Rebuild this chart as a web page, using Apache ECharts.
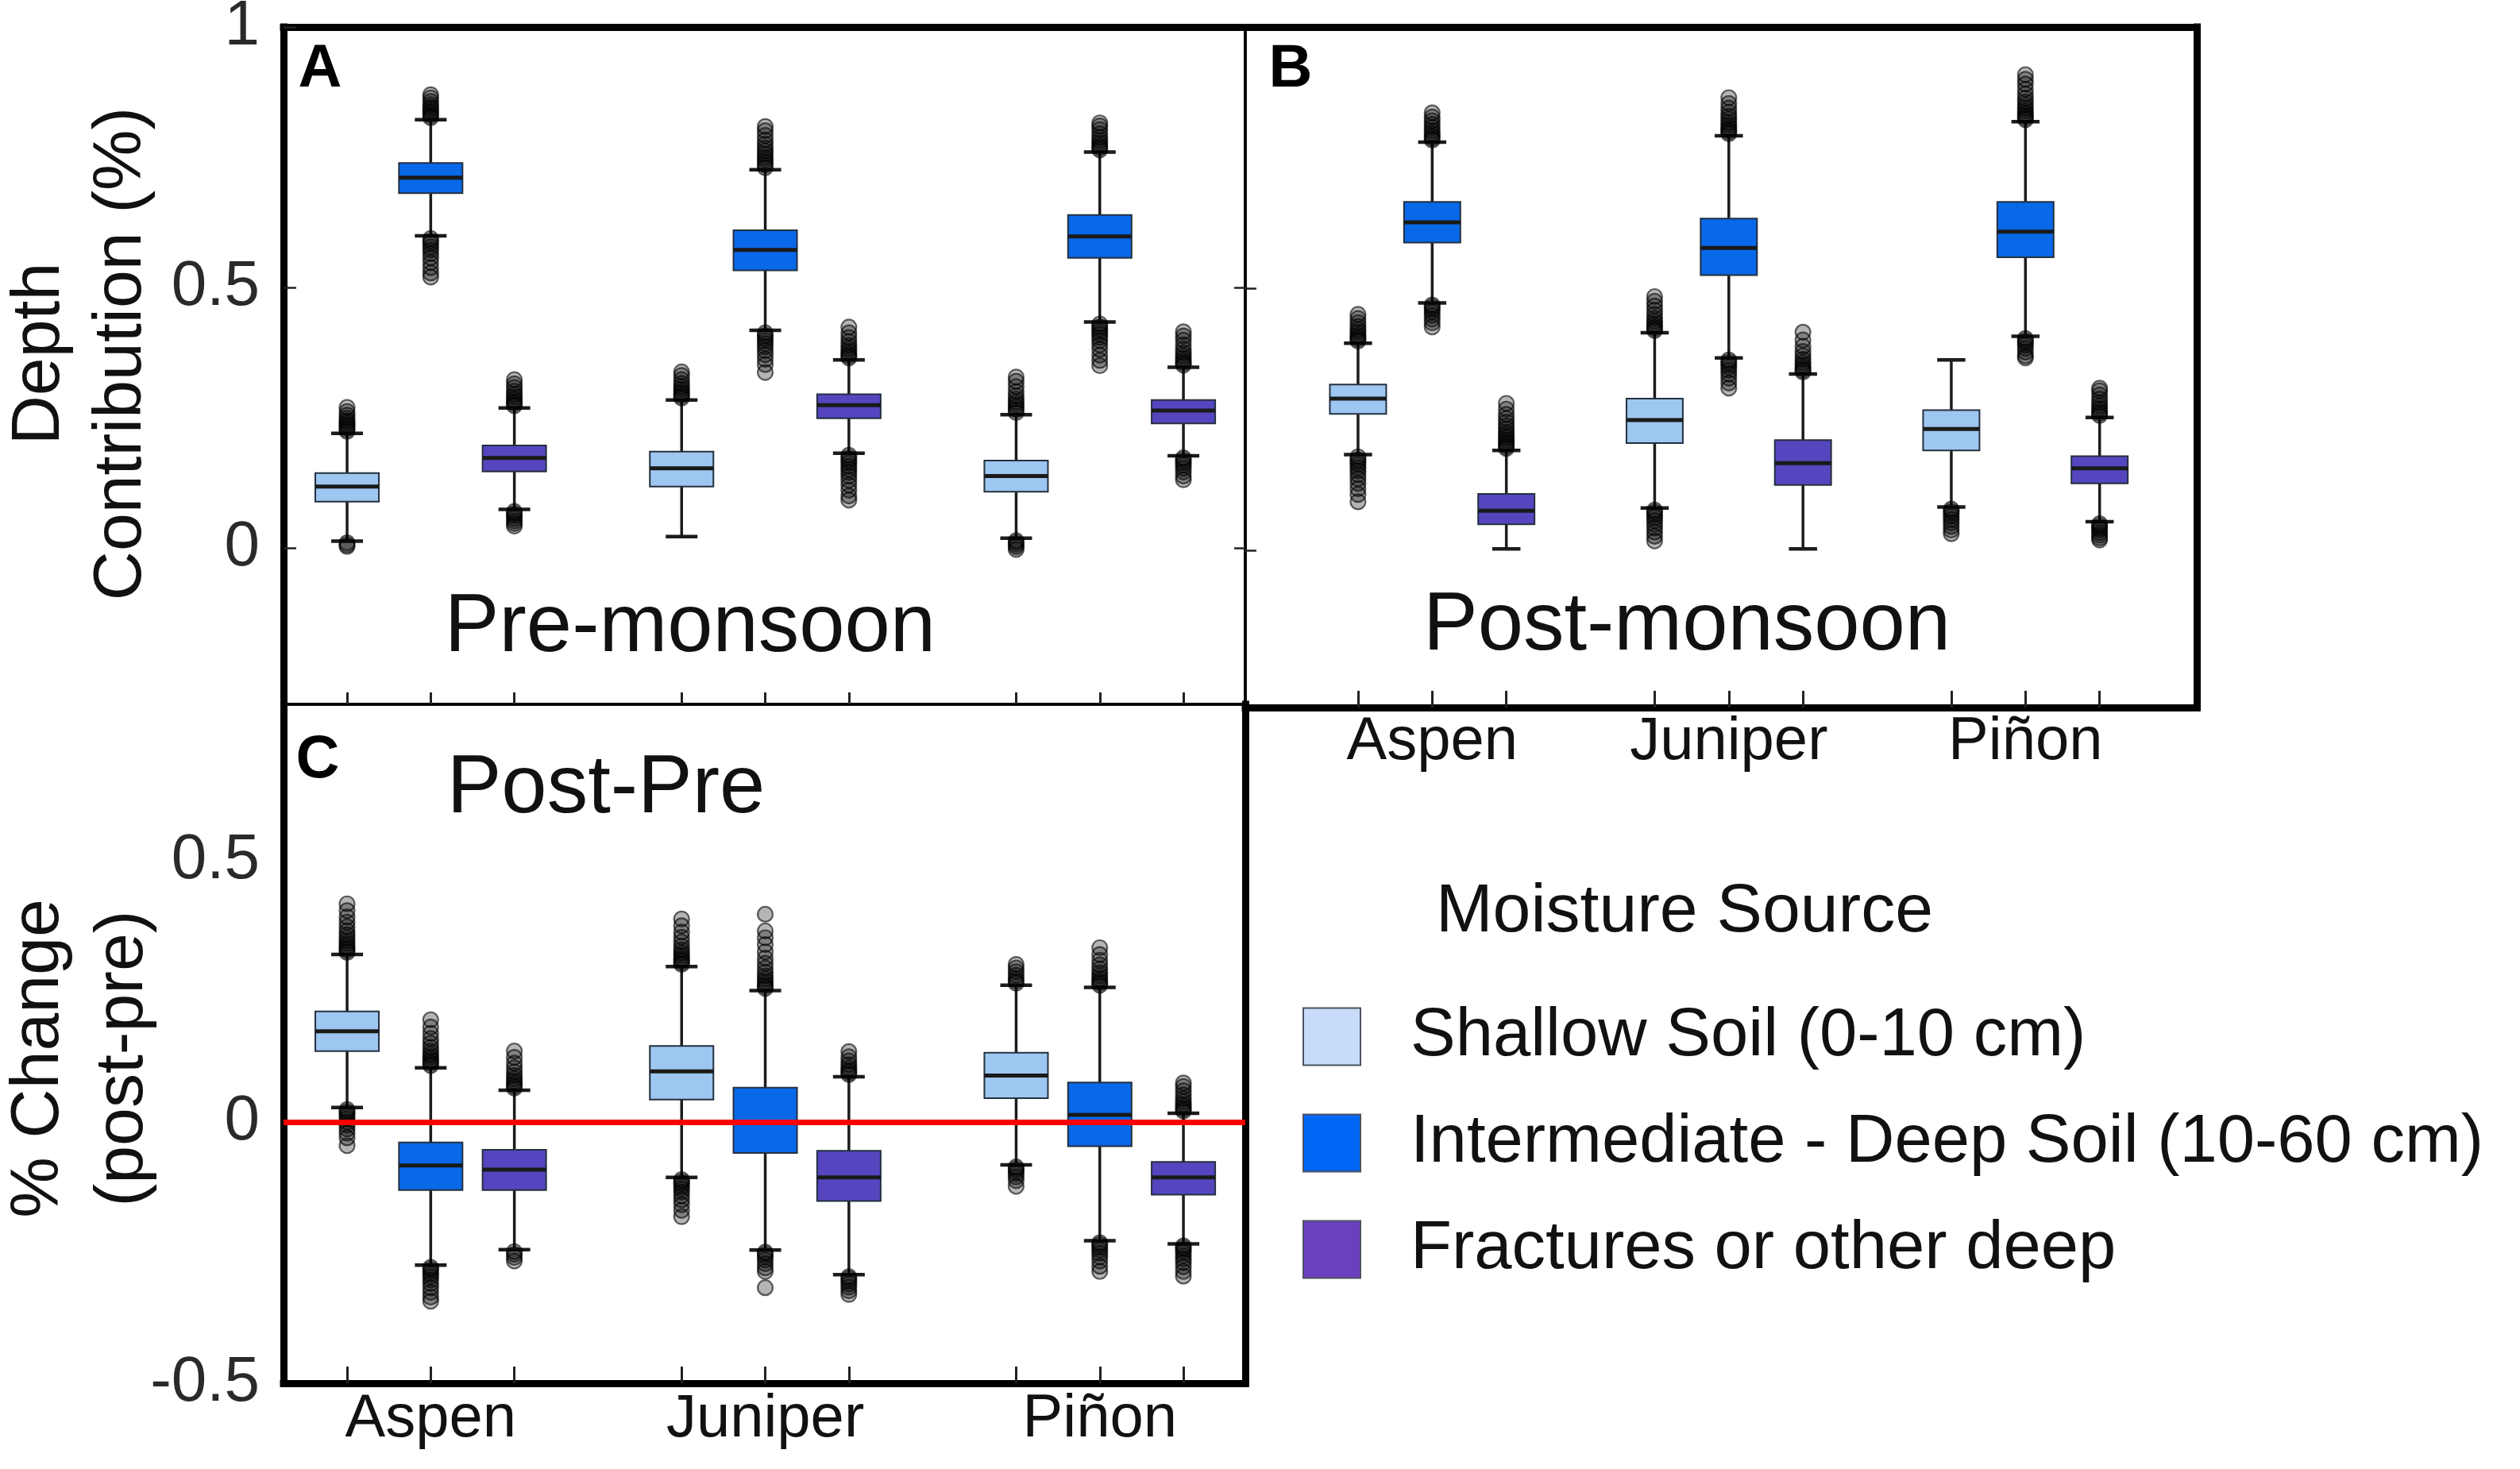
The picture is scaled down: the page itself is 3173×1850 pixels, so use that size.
<!DOCTYPE html>
<html>
<head>
<meta charset="utf-8">
<title>Depth contribution boxplots</title>
<script src="https://cdn.jsdelivr.net/npm/echarts@6/dist/echarts.min.js"></script>
<style>
  html, body { margin: 0; padding: 0; background: #fff; }
  #chart { width: 3173px; height: 1850px; }
</style>
</head>
<body>
<div id="chart"></div>
<script>
// categories
var species = ['Aspen', 'Juniper', 'Piñon'];
var sources = ['Shallow Soil (0-10 cm)', 'Intermediate - Deep Soil (10-60 cm)', 'Fractures or other deep'];

// box stats per species: [lower whisker, Q1, median, Q3, upper whisker]
var preShallow = [[0.013, 0.089, 0.118, 0.144, 0.220], [0.022, 0.118, 0.153, 0.185, 0.284], [0.019, 0.108, 0.138, 0.168, 0.256]];
var preInter   = [[0.599, 0.681, 0.711, 0.739, 0.822], [0.418, 0.533, 0.572, 0.610, 0.726], [0.434, 0.557, 0.598, 0.639, 0.760]];
var preFrac    = [[0.074, 0.147, 0.173, 0.197, 0.269], [0.182, 0.249, 0.274, 0.295, 0.361], [0.177, 0.239, 0.264, 0.284, 0.347]];

var postShallow = [[0.183, 0.261, 0.290, 0.317, 0.396], [0.081, 0.205, 0.249, 0.290, 0.416], [0.083, 0.191, 0.232, 0.268, 0.364]];
var postInter   = [[0.473, 0.588, 0.627, 0.666, 0.780], [0.368, 0.526, 0.578, 0.634, 0.792], [0.409, 0.560, 0.609, 0.666, 0.819]];
var postFrac    = [[0.003, 0.050, 0.076, 0.108, 0.191], [0.003, 0.125, 0.167, 0.211, 0.337], [0.055, 0.128, 0.157, 0.180, 0.254]];

var diffShallow = [[0.028, 0.136, 0.174, 0.212, 0.321], [-0.106, 0.043, 0.097, 0.146, 0.298], [-0.082, 0.046, 0.089, 0.133, 0.262]];
var diffInter   = [[-0.274, -0.130, -0.083, -0.039, 0.104], [-0.245, -0.059, 0.000, 0.066, 0.252], [-0.227, -0.046, 0.014, 0.076, 0.258]];
var diffFrac    = [[-0.244, -0.130, -0.091, -0.053, 0.061], [-0.292, -0.151, -0.106, -0.055, 0.087], [-0.233, -0.139, -0.106, -0.076, 0.017]];

// outliers per species
var preShallowOut = [
  [0.224, 0.228, 0.232, 0.236, 0.240, 0.244, 0.249, 0.255, 0.262, 0.270, 0.010, 0.006, 0.003],
  [0.288, 0.292, 0.296, 0.300, 0.305, 0.310, 0.316, 0.323, 0.331, 0.338],
  [0.260, 0.265, 0.270, 0.275, 0.280, 0.286, 0.292, 0.300, 0.310, 0.320, 0.328, 0.014, 0.010, 0.006, 0.002, -0.003]
];
var preInterOut = [
  [0.826, 0.830, 0.834, 0.838, 0.842, 0.846, 0.851, 0.857, 0.864, 0.870, 0.594, 0.589, 0.584, 0.578, 0.572, 0.565, 0.557, 0.548, 0.538, 0.528, 0.520],
  [0.730, 0.735, 0.740, 0.745, 0.750, 0.756, 0.762, 0.768, 0.775, 0.783, 0.792, 0.801, 0.809, 0.413, 0.408, 0.403, 0.398, 0.392, 0.386, 0.379, 0.371, 0.362, 0.352, 0.337],
  [0.764, 0.768, 0.772, 0.777, 0.782, 0.788, 0.795, 0.803, 0.810, 0.816, 0.430, 0.425, 0.420, 0.415, 0.410, 0.404, 0.398, 0.390, 0.381, 0.370, 0.360, 0.350]
];
var preFracOut = [
  [0.273, 0.277, 0.281, 0.285, 0.290, 0.295, 0.301, 0.308, 0.315, 0.323, 0.070, 0.066, 0.062, 0.057, 0.052, 0.047, 0.042],
  [0.365, 0.369, 0.373, 0.378, 0.383, 0.389, 0.396, 0.404, 0.413, 0.424, 0.178, 0.173, 0.168, 0.163, 0.157, 0.151, 0.145, 0.138, 0.130, 0.121, 0.111, 0.100, 0.092],
  [0.351, 0.355, 0.359, 0.364, 0.369, 0.375, 0.382, 0.390, 0.399, 0.407, 0.415, 0.173, 0.169, 0.164, 0.159, 0.153, 0.146, 0.138, 0.131]
];

var postShallowOut = [
  [0.400, 0.404, 0.408, 0.412, 0.417, 0.422, 0.428, 0.435, 0.443, 0.451, 0.179, 0.174, 0.169, 0.164, 0.158, 0.152, 0.145, 0.137, 0.128, 0.118, 0.107, 0.093],
  [0.420, 0.424, 0.428, 0.433, 0.438, 0.444, 0.451, 0.459, 0.467, 0.476, 0.485, 0.077, 0.073, 0.068, 0.063, 0.057, 0.050, 0.043, 0.035, 0.027, 0.018],
  [0.079, 0.075, 0.070, 0.065, 0.059, 0.053, 0.046, 0.039, 0.032]
];
var postInterOut = [
  [0.784, 0.788, 0.792, 0.797, 0.802, 0.808, 0.814, 0.821, 0.828, 0.836, 0.469, 0.465, 0.460, 0.455, 0.449, 0.442, 0.435, 0.427],
  [0.796, 0.800, 0.804, 0.808, 0.813, 0.818, 0.824, 0.830, 0.837, 0.845, 0.854, 0.865, 0.364, 0.360, 0.355, 0.350, 0.344, 0.337, 0.329, 0.320, 0.310],
  [0.823, 0.827, 0.831, 0.835, 0.840, 0.845, 0.851, 0.857, 0.864, 0.872, 0.881, 0.891, 0.900, 0.909, 0.405, 0.401, 0.397, 0.392, 0.386, 0.379, 0.372, 0.368]
];
var postFracOut = [
  [0.195, 0.199, 0.203, 0.207, 0.211, 0.216, 0.221, 0.226, 0.232, 0.238, 0.245, 0.252, 0.260, 0.270, 0.281],
  [0.341, 0.345, 0.349, 0.354, 0.359, 0.365, 0.372, 0.380, 0.390, 0.402, 0.417],
  [0.258, 0.262, 0.266, 0.271, 0.276, 0.282, 0.289, 0.297, 0.305, 0.310, 0.051, 0.047, 0.043, 0.039, 0.034, 0.029, 0.024, 0.020]
];

var diffShallowOut = [
  [0.325, 0.329, 0.333, 0.337, 0.342, 0.347, 0.353, 0.359, 0.366, 0.374, 0.383, 0.393, 0.405, 0.418, 0.024, 0.020, 0.016, 0.011, 0.006, 0.000, -0.006, -0.013, -0.021, -0.030, -0.045],
  [0.302, 0.306, 0.310, 0.314, 0.319, 0.324, 0.330, 0.337, 0.345, 0.354, 0.364, 0.376, 0.389, -0.110, -0.114, -0.118, -0.123, -0.128, -0.134, -0.141, -0.149, -0.158, -0.169, -0.181],
  [0.266, 0.270, 0.275, 0.281, 0.288, 0.295, 0.302, -0.086, -0.090, -0.094, -0.099, -0.105, -0.112, -0.123]
];
var diffInterOut = [
  [0.108, 0.112, 0.116, 0.120, 0.125, 0.130, 0.136, 0.143, 0.151, 0.160, 0.170, 0.182, 0.196, -0.278, -0.282, -0.286, -0.291, -0.296, -0.302, -0.309, -0.317, -0.326, -0.335, -0.343],
  [0.256, 0.260, 0.264, 0.269, 0.274, 0.280, 0.287, 0.295, 0.304, 0.314, 0.326, 0.340, 0.353, 0.366, 0.398, -0.249, -0.253, -0.258, -0.264, -0.271, -0.279, -0.286, -0.317],
  [0.262, 0.266, 0.270, 0.275, 0.280, 0.286, 0.293, 0.301, 0.310, 0.321, 0.334, -0.231, -0.235, -0.240, -0.245, -0.251, -0.258, -0.266, -0.276, -0.286]
];
var diffFracOut = [
  [0.065, 0.069, 0.073, 0.078, 0.083, 0.089, 0.096, 0.104, 0.113, 0.124, 0.136, -0.248, -0.253, -0.259, -0.266],
  [0.091, 0.095, 0.099, 0.104, 0.110, 0.117, 0.125, 0.135, -0.296, -0.300, -0.305, -0.310, -0.316, -0.323, -0.330],
  [0.021, 0.025, 0.029, 0.034, 0.039, 0.045, 0.052, 0.060, 0.068, 0.075, -0.237, -0.241, -0.245, -0.250, -0.256, -0.262, -0.269, -0.277, -0.286, -0.295]
];

// y tick labels
var depthTicks = [0, 0.5, 1];
var changeTicks = [-0.5, 0, 0.5];

var boxColors = ['#9dc7f0', '#0868e8', '#5546bf'];
var legendColors = ['#c6dcf8', '#0066f5', '#6a40bf'];
var FONT = '"Liberation Sans", Arial, Helvetica, sans-serif';

var panels = [
  { boxes: [preShallow, preInter, preFrac], outs: [preShallowOut, preInterOut, preFracOut] },
  { boxes: [postShallow, postInter, postFrac], outs: [postShallowOut, postInterOut, postFracOut] },
  { boxes: [diffShallow, diffInter, diffFrac], outs: [diffShallowOut, diffInterOut, diffFracOut] }
];

// slot on the x axis: 3 boxes per species, one empty slot between species
function slot(s, k) { return s * 4 + k + 1; }
var tickSlots = [];
species.forEach(function (n, s) { sources.forEach(function (m, k) { tickSlots.push(slot(s, k)); }); });
var labelSlots = species.map(function (n, s) { return slot(s, 1); });

function renderBox(params, api) {
  var x = api.value(0);
  var lo = api.coord([x, api.value(1)]);
  var q1 = api.coord([x, api.value(2)]);
  var md = api.coord([x, api.value(3)]);
  var q3 = api.coord([x, api.value(4)]);
  var hi = api.coord([x, api.value(5)]);
  var bw = api.size([0.76, 0])[0];
  var cw = api.size([0.38, 0])[0];
  var cx = lo[0];
  var ink = '#1c1c1c';
  return {
    type: 'group',
    children: [
      { type: 'line', shape: { x1: cx, y1: hi[1], x2: cx, y2: lo[1] }, style: { stroke: ink, lineWidth: 3.5 } },
      { type: 'line', shape: { x1: cx - cw / 2, y1: hi[1], x2: cx + cw / 2, y2: hi[1] }, style: { stroke: ink, lineWidth: 4.5 } },
      { type: 'line', shape: { x1: cx - cw / 2, y1: lo[1], x2: cx + cw / 2, y2: lo[1] }, style: { stroke: ink, lineWidth: 4.5 } },
      { type: 'rect', shape: { x: cx - bw / 2, y: q3[1], width: bw, height: q1[1] - q3[1] },
        style: { fill: api.visual('color'), stroke: '#24303f', lineWidth: 2 } },
      { type: 'line', shape: { x1: cx - bw / 2, y1: md[1], x2: cx + bw / 2, y2: md[1] }, style: { stroke: '#1a1a1a', lineWidth: 5 } }
    ]
  };
}

function frameLine(w) {
  return { show: true, onZero: false, lineStyle: { color: '#000', width: w, cap: 'square' } };
}
function plainAxis(pos, gi, min, max, w) {
  return {
    type: 'value', gridIndex: gi, position: pos, min: min, max: max,
    axisLine: frameLine(w), axisTick: { show: false }, axisLabel: { show: false }, splitLine: { show: false }
  };
}

var xRanges = [[0.24, 11.74], [-0.52, 12.31], [0.24, 11.74]];
var yRanges = [[-0.3, 1.0], [-0.3, 1.0], [-0.5, 0.8]];

var xAxes = [
  // A
  { type: 'value', gridIndex: 0, position: 'bottom', min: xRanges[0][0], max: xRanges[0][1],
    axisLine: frameLine(3.5),
    axisTick: { show: true, inside: true, length: 15, customValues: tickSlots, lineStyle: { color: '#222', width: 3 } },
    axisLabel: { show: false }, splitLine: { show: false } },
  plainAxis('top', 0, xRanges[0][0], xRanges[0][1], 9),
  // B
  { type: 'value', gridIndex: 1, position: 'bottom', min: xRanges[1][0], max: xRanges[1][1],
    axisLine: frameLine(9),
    axisTick: { show: true, inside: true, length: 21, customValues: tickSlots, lineStyle: { color: '#222', width: 3 } },
    axisLabel: { show: true, customValues: labelSlots, margin: 6, fontSize: 76, color: '#111', fontFamily: FONT,
      formatter: function (v) { return species[Math.round((v - 2) / 4)]; } },
    splitLine: { show: false } },
  plainAxis('top', 1, xRanges[1][0], xRanges[1][1], 9),
  // C
  { type: 'value', gridIndex: 2, position: 'bottom', min: xRanges[2][0], max: xRanges[2][1],
    axisLine: frameLine(9),
    axisTick: { show: true, inside: true, length: 21, customValues: tickSlots, lineStyle: { color: '#222', width: 3 } },
    axisLabel: { show: true, customValues: labelSlots, margin: 8, fontSize: 76, color: '#111', fontFamily: FONT,
      formatter: function (v) { return species[Math.round((v - 2) / 4)]; } },
    splitLine: { show: false } },
  plainAxis('top', 2, xRanges[2][0], xRanges[2][1], 3.5)
];

var yAxes = [
  // A
  { type: 'value', gridIndex: 0, position: 'left', min: yRanges[0][0], max: yRanges[0][1],
    name: 'Depth\nContribution (%)', nameLocation: 'middle', nameGap: 152, nameRotate: 90,
    nameTextStyle: { fontSize: 86, lineHeight: 103, color: '#111', fontFamily: FONT, padding: [0, 0, 0, 30] },
    axisLine: frameLine(9),
    axisTick: { show: true, inside: true, length: 16, customValues: depthTicks, lineStyle: { color: '#222', width: 2.5 } },
    axisLabel: { show: true, customValues: depthTicks, margin: 30, fontSize: 80, color: '#2a2a2a', fontFamily: FONT },
    splitLine: { show: false } },
  { type: 'value', gridIndex: 0, position: 'right', min: yRanges[0][0], max: yRanges[0][1],
    axisLine: frameLine(3.5),
    axisTick: { show: true, inside: true, length: 14, customValues: [0, 0.5], lineStyle: { color: '#222', width: 2.5 } },
    axisLabel: { show: false }, splitLine: { show: false } },
  // B
  { type: 'value', gridIndex: 1, position: 'left', min: yRanges[1][0], max: yRanges[1][1],
    axisLine: frameLine(3.5),
    axisTick: { show: true, inside: true, length: 14, customValues: [0, 0.5], lineStyle: { color: '#222', width: 2.5 } },
    axisLabel: { show: false }, splitLine: { show: false } },
  plainAxis('right', 1, yRanges[1][0], yRanges[1][1], 9),
  // C
  { type: 'value', gridIndex: 2, position: 'left', min: yRanges[2][0], max: yRanges[2][1],
    axisLine: frameLine(9),
    axisTick: { show: false },
    axisLabel: { show: true, customValues: changeTicks, margin: 30, fontSize: 80, color: '#2a2a2a', fontFamily: FONT },
    splitLine: { show: false } },
  plainAxis('right', 2, yRanges[2][0], yRanges[2][1], 9)
];

var series = [];
panels.forEach(function (p, g) {
  sources.forEach(function (name, k) {
    series.push({
      type: 'custom', name: name, xAxisIndex: g * 2, yAxisIndex: g * 2,
      renderItem: renderBox, itemStyle: { color: boxColors[k] },
      encode: { x: 0, y: [1, 2, 3, 4, 5] },
      data: p.boxes[k].map(function (b, s) { return [slot(s, k)].concat(b); }),
      z: 2, silent: true
    });
  });
  var pts = [];
  sources.forEach(function (name, k) {
    p.outs[k].forEach(function (list, s) {
      list.forEach(function (v) { pts.push([slot(s, k), v]); });
    });
  });
  var sc = {
    type: 'scatter', name: 'outliers-' + g, xAxisIndex: g * 2, yAxisIndex: g * 2,
    symbol: 'circle', symbolSize: 19, silent: true, z: 3,
    itemStyle: { color: 'rgba(0,0,0,0.36)', borderColor: 'rgba(0,0,0,0.75)', borderWidth: 2.2 },
    data: pts
  };
  if (g === 2) {
    sc.markLine = {
      silent: true, symbol: 'none', label: { show: false },
      lineStyle: { color: '#ff0000', width: 7, type: 'solid' },
      data: [{ yAxis: 0 }]
    };
  }
  series.push(sc);
});

function label(text, x, y, size, bold, rot) {
  return {
    type: 'text', x: x, y: y, z: 10, rotation: rot || 0,
    style: { text: text, fill: bold ? '#000' : '#111', font: (bold ? 'bold ' : '') + size + 'px ' + FONT,
      textAlign: 'center', textVerticalAlign: 'middle' }
  };
}

var chart = echarts.init(document.getElementById('chart'));
chart.setOption({
  animation: false,
  backgroundColor: '#fff',
  textStyle: { fontFamily: FONT },
  grid: [
    { left: 357, top: 34, width: 1211, height: 853, outerBoundsMode: 'none', containLabel: false },
    { left: 1568, top: 34, width: 1198, height: 857, outerBoundsMode: 'none', containLabel: false },
    { left: 357, top: 887, width: 1211, height: 855, outerBoundsMode: 'none', containLabel: false }
  ],
  xAxis: xAxes,
  yAxis: yAxes,
  legend: {
    orient: 'vertical', left: 1635, top: 1258, itemWidth: 72, itemHeight: 72, itemGap: 49,
    icon: 'rect', selectedMode: false,
    textStyle: { fontSize: 85, lineHeight: 72, color: '#111', fontFamily: FONT, padding: [0, 0, 0, 58] },
    data: sources.map(function (n, k) {
      return { name: n, itemStyle: { color: legendColors[k], borderColor: '#4a5260', borderWidth: 2 } };
    })
  },
  graphic: [
    label('A', 403, 88, 76, true),
    label('B', 1625, 88, 76, true),
    label('C', 400, 958, 76, true),
    label('Pre-monsoon', 869, 792, 103, false),
    label('Post-monsoon', 2124, 790, 103, false),
    label('Post-Pre', 763, 995, 103, false),
    label('Moisture Source', 2121, 1149, 86, false),
    label('% Change', 49, 1333, 86, false, Math.PI / 2),
    label('(post-pre)', 155, 1333, 86, false, Math.PI / 2)
  ],
  series: series
});
</script>
</body>
</html>
